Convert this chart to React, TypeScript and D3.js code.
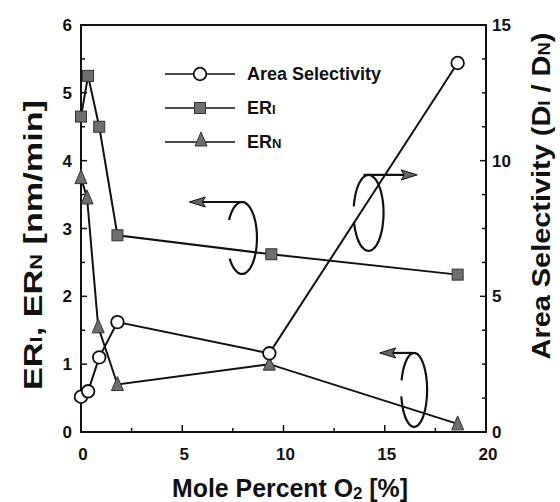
import * as d3 from "d3";

// mole percent O2 for each series
const o2Sel = [0, 0.35, 0.9, 1.8, 9.3, 18.6];
const areaSel = [1.3, 1.5, 2.75, 4.05, 2.9, 13.6];

const o2ErI = [0, 0.35, 0.9, 1.8, 9.4, 18.6];
const erI = [4.65, 5.25, 4.5, 2.9, 2.62, 2.32];

const o2ErN = [0, 0.3, 0.85, 1.8, 9.3, 18.6];
const erN = [3.75, 3.45, 1.55, 0.7, 1.0, 0.12];

const xTicks = [0, 5, 10, 15, 20];
const yTicks = [0, 1, 2, 3, 4, 5, 6];
const y2Ticks = [0, 5, 10, 15];

// curly arrows: loop center (x, left-axis y), arrow tip x, direction
const loops = [
  { cx: 7.95, cy: 2.86, rx: 15, ry: 36, tip: 5.35, t0: -60, t1: 235 },
  { cx: 14.2, cy: 3.23, rx: 15, ry: 38, tip: 16.6, t0: -80, t1: 258 },
  { cx: 16.45, cy: 0.62, rx: 13, ry: 37, tip: 14.75, t0: -75, t1: 262 },
];

const W = 560;
const H = 502;
const L = 81, R = 486, T = 25, B = 432;
const FONT = "'Liberation Sans', Arial, Helvetica, sans-serif";

export default function App() {
  const x = d3.scaleLinear().domain([0, 20]).range([L, R]);
  const y = d3.scaleLinear().domain([0, 6]).range([B, T]);
  const y2 = d3.scaleLinear().domain([0, 15]).range([B, T]);

  const line = d3.line<[number, number]>();
  const selPts = o2Sel.map((v, i) => [x(v), y2(areaSel[i])] as [number, number]);
  const erIPts = o2ErI.map((v, i) => [x(v), y(erI[i])] as [number, number]);
  const erNPts = o2ErN.map((v, i) => [x(v), y(erN[i])] as [number, number]);

  const square = (cx: number, cy: number, k: string) => (
    <rect key={k} x={cx - 5.5} y={cy - 5.5} width={11} height={11} fill="#6e6e6e" stroke="#333" strokeWidth={1} />
  );
  const tri = (cx: number, cy: number, k: string) => (
    <path key={k} d={`M${cx},${cy - 8}L${cx + 6},${cy + 6}L${cx - 6},${cy + 6}Z`} fill="#6e6e6e" stroke="#333" strokeWidth={1} />
  );
  const circ = (cx: number, cy: number, k: string) => (
    <circle key={k} cx={cx} cy={cy} r={6.3} fill="#fff" stroke="#111" strokeWidth={1.8} />
  );

  const minorX = d3.range(0, 20.01, 2.5);
  const minorY = d3.range(0, 6.01, 0.5);
  const minorY2 = d3.range(0, 15.01, 1.25);

  return (
    <svg width={W} height={H} style={{ position: "absolute", left: 0, top: 0, background: "#fff" }} fontFamily={FONT}>
      {/* frame */}
      <rect x={L} y={T} width={R - L} height={B - T} fill="none" stroke="#111" strokeWidth={2} />

      {/* ticks */}
      <g stroke="#111" strokeWidth={1.5}>
        {minorX.map((v) => {
          const major = v % 5 === 0;
          return <line key={"x" + v} x1={x(v)} x2={x(v)} y1={B} y2={B - (major ? 7 : 4)} />;
        })}
        {minorY.map((v) => {
          const major = v % 1 === 0;
          return <line key={"y" + v} x1={L} x2={L + (major ? 6 : 4)} y1={y(v)} y2={y(v)} />;
        })}
        {minorY2.map((v) => {
          const major = v % 5 === 0;
          return <line key={"r" + v} x1={R} x2={R - (major ? 6 : 4)} y1={y2(v)} y2={y2(v)} />;
        })}
      </g>

      {/* tick labels */}
      <g fontSize={17} fontWeight="bold" fill="#111">
        {xTicks.map((v) => (
          <text key={"xl" + v} x={x(v) + 2} y={460} textAnchor="middle">{v}</text>
        ))}
        {yTicks.map((v) => (
          <text key={"yl" + v} x={72} y={y(v) + 6} textAnchor="end">{v}</text>
        ))}
        {y2Ticks.map((v) => (
          <text key={"rl" + v} x={492} y={y2(v) + 6} textAnchor="start">{v}</text>
        ))}
      </g>

      {/* axis titles */}
      <text x={290} y={497} fontSize={25} fontWeight="bold" fill="#111" textAnchor="middle" textLength={236} lengthAdjust="spacingAndGlyphs">
        Mole Percent O<tspan fontSize={17} dy={2}>2</tspan><tspan dy={-2}> [%]</tspan>
      </text>
      <text transform="translate(42,245) rotate(-90)" fontSize={25} fontWeight="bold" fill="#111" textAnchor="middle" textLength={290} lengthAdjust="spacingAndGlyphs">
        ER<tspan fontSize={16}>I</tspan>, ER<tspan fontSize={16}>N</tspan> [nm/min]
      </text>
      <text transform="translate(550,196) rotate(-90)" fontSize={25} fontWeight="bold" fill="#111" textAnchor="middle" textLength={327} lengthAdjust="spacingAndGlyphs">
        Area Selectivity (D<tspan fontSize={16}>I</tspan> / D<tspan fontSize={16}>N</tspan>)
      </text>

      {/* curly arrows */}
      <g stroke="#111" strokeWidth={2.2} fill="none">
        {loops.map((lp, i) => {
          const cx = x(lp.cx);
          const cy = y(lp.cy);
          const pts = d3.range(lp.t0, lp.t1 + 0.1, 5).map((deg) => {
            const t = (deg * Math.PI) / 180;
            return [cx + lp.rx * Math.sin(t), cy - lp.ry * Math.cos(t)] as [number, number];
          });
          const topY = cy - lp.ry;
          const tipX = x(lp.tip);
          const dir = tipX < cx ? -1 : 1;
          const startX = dir < 0 ? cx : cx - 5;
          return (
            <g key={"lp" + i}>
              <path d={d3.line().curve(d3.curveBasis)(pts) ?? ""} />
              <line x1={startX} x2={tipX - dir * 10} y1={topY} y2={topY} />
              <path
                d={`M${tipX},${topY}L${tipX - dir * 16},${topY - 5}L${tipX - dir * 13},${topY}L${tipX - dir * 16},${topY + 5}Z`}
                fill="#666"
                strokeWidth={1}
              />
            </g>
          );
        })}
      </g>

      {/* data lines */}
      <g fill="none" stroke="#111" strokeWidth={2}>
        <path d={line(selPts) ?? ""} />
        <path d={line(erIPts) ?? ""} />
        <path d={line(erNPts) ?? ""} />
      </g>

      {/* markers */}
      {erNPts.map((p, i) => tri(p[0], p[1], "n" + i))}
      {erIPts.map((p, i) => square(p[0], p[1], "i" + i))}
      {selPts.map((p, i) => circ(p[0], p[1], "s" + i))}

      {/* legend */}
      <g fontSize={18} fontWeight="bold" fill="#111">
        <line x1={165} x2={235} y1={74} y2={74} stroke="#111" strokeWidth={1.5} />
        {circ(200, 74, "lc")}
        <text x={247} y={80}>Area Selectivity</text>

        <line x1={165} x2={235} y1={108} y2={108} stroke="#111" strokeWidth={1.5} />
        {square(200, 108, "ls")}
        <text x={247} y={114}>ER<tspan fontSize={13}>I</tspan></text>

        <line x1={165} x2={235} y1={142} y2={142} stroke="#111" strokeWidth={1.5} />
        {tri(201, 140, "lt")}
        <text x={247} y={148}>ER<tspan fontSize={13}>N</tspan></text>
      </g>
    </svg>
  );
}
